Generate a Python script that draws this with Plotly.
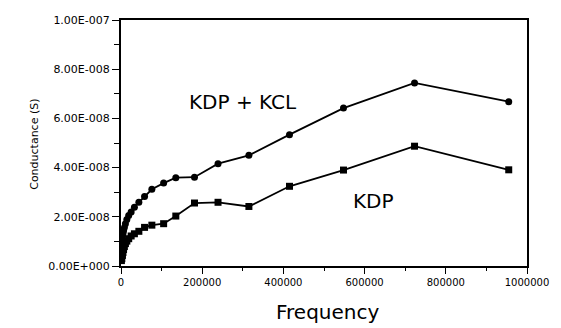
import plotly.graph_objects as go

# Frequency (Hz)
freq = [1000, 2000, 3600, 4800, 6300, 8300, 10900, 14400, 19000, 25000, 33000,
        44000, 58000, 76000, 105000, 135000, 181000, 239000, 315000, 415000,
        548000, 723000, 955000]

# Conductance (S)
kdp_kcl = [0.95e-8, 1.07e-8, 1.19e-8, 1.31e-8, 1.43e-8, 1.56e-8, 1.72e-8, 1.89e-8,
           2.05e-8, 2.20e-8, 2.39e-8, 2.59e-8, 2.83e-8, 3.12e-8, 3.37e-8, 3.59e-8,
           3.61e-8, 4.16e-8, 4.50e-8, 5.34e-8, 6.42e-8, 7.44e-8, 6.68e-8]

kdp = [0.22e-8, 0.30e-8, 0.43e-8, 0.55e-8, 0.67e-8, 0.79e-8, 0.91e-8, 1.01e-8,
       1.11e-8, 1.22e-8, 1.31e-8, 1.41e-8, 1.57e-8, 1.66e-8, 1.72e-8, 2.03e-8,
       2.56e-8, 2.59e-8, 2.42e-8, 3.24e-8, 3.90e-8, 4.87e-8, 3.91e-8]

x_tickvals = [0, 200000, 400000, 600000, 800000, 1000000]
x_ticktext = ["0", "200000", "400000", "600000", "800000", "1000000"]
y_tickvals = [0, 2e-8, 4e-8, 6e-8, 8e-8, 1e-7]
y_ticktext = ["0.00E+000", "2.00E-008", "4.00E-008", "6.00E-008", "8.00E-008", "1.00E-007"]

FONT = "DejaVu Sans"

fig = go.Figure()
fig.add_trace(go.Scatter(
    x=freq, y=kdp_kcl, mode="lines+markers", name="KDP + KCL",
    line=dict(color="black", width=1.8),
    marker=dict(symbol="circle", size=7, color="black"),
))
fig.add_trace(go.Scatter(
    x=freq, y=kdp, mode="lines+markers", name="KDP",
    line=dict(color="black", width=1.8),
    marker=dict(symbol="square", size=7, color="black"),
))

L, R, T, B = 121, 14, 20, 62
W, H = 561, 328
pw = W - L - R
ph = H - T - B

fig.update_layout(
    width=W, height=H,
    margin=dict(l=L, r=R, t=T, b=B),
    paper_bgcolor="white", plot_bgcolor="white",
    showlegend=False,
    font=dict(family=FONT, color="black"),
    xaxis=dict(
        range=[0, 1000000], tickvals=x_tickvals, ticktext=x_ticktext,
        ticks="outside", ticklen=6, tickwidth=1.4, tickcolor="black",
        minor=dict(ticks="outside", ticklen=3, dtick=100000, tickcolor="black"),
        showline=True, linecolor="black", linewidth=2, mirror=True,
        showgrid=False, zeroline=False, ticklabeloverflow="allow",
        tickfont=dict(family=FONT, size=10, color="black"),
    ),
    yaxis=dict(
        range=[0, 1e-7], tickvals=y_tickvals, ticktext=y_ticktext,
        ticks="outside", ticklen=7, tickwidth=1.4, tickcolor="black",
        minor=dict(ticks="outside", ticklen=5, tickvals=[1e-8, 3e-8, 5e-8, 7e-8, 9e-8], tickcolor="black"),
        showline=True, linecolor="black", linewidth=2, mirror=True,
        showgrid=False, zeroline=False,
        tickfont=dict(family=FONT, size=11, color="black"),
    ),
    annotations=[
        dict(text="Frequency", showarrow=False,
             xref="paper", yref="paper",
             x=(338 - L) / pw, y=(H - B - 312) / ph,
             xanchor="center", yanchor="middle",
             font=dict(family=FONT, size=20, color="black")),
        dict(text="Conductance (S)", textangle=-90, showarrow=False,
             xref="paper", yref="paper",
             x=(29.5 - L) / pw, y=(H - B - 144) / ph,
             xanchor="center", yanchor="middle",
             font=dict(family=FONT, size=11, color="black")),
        dict(text="KDP + KCL", showarrow=False,
             xref="paper", yref="paper",
             x=(248.5 - L) / pw, y=(H - B - 101.7) / ph,
             xanchor="center", yanchor="middle",
             font=dict(family=FONT, size=20, color="black")),
        dict(text="KDP", showarrow=False,
             xref="paper", yref="paper",
             x=(386 - L) / pw, y=(H - B - 201) / ph,
             xanchor="center", yanchor="middle",
             font=dict(family=FONT, size=20, color="black")),
    ],
)

fig.write_html("out.html")
